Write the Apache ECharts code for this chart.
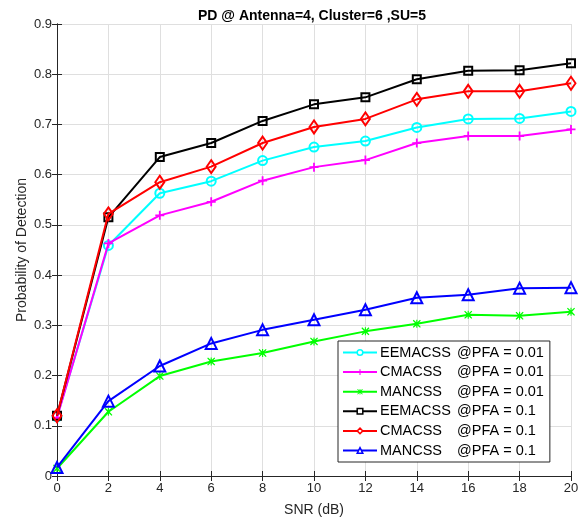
<!DOCTYPE html>
<html><head><meta charset="utf-8">
<script src="https://cdn.jsdelivr.net/npm/echarts@6/dist/echarts.min.js"></script>
<style>html,body{margin:0;padding:0;background:#fff}#c{width:588px;height:522px}</style>
</head><body><div id="c"></div>
<script>
const snr = [0, 2, 4, 6, 8, 10, 12, 14, 16, 18, 20];
const eemacss001 = [0.118, 0.459, 0.563, 0.587, 0.628, 0.655, 0.667, 0.694, 0.711, 0.712, 0.726];
const cmacss001  = [0.116, 0.463, 0.519, 0.546, 0.588, 0.615, 0.629, 0.663, 0.677, 0.677, 0.690];
const mancss001  = [0.015, 0.128, 0.199, 0.228, 0.245, 0.268, 0.288, 0.303, 0.321, 0.319, 0.327];
const eemacss01  = [0.120, 0.515, 0.635, 0.663, 0.707, 0.740, 0.754, 0.790, 0.807, 0.808, 0.822];
const cmacss01   = [0.120, 0.522, 0.585, 0.616, 0.663, 0.695, 0.711, 0.750, 0.766, 0.766, 0.782];
const mancss01   = [0.017, 0.149, 0.219, 0.264, 0.291, 0.311, 0.331, 0.355, 0.361, 0.374, 0.375];
const seriesNames = [
  ['EEMACSS', '@PFA = 0.01'],
  ['CMACSS', '@PFA = 0.01'],
  ['MANCSS', '@PFA = 0.01'],
  ['EEMACSS', '@PFA = 0.1'],
  ['CMACSS', '@PFA = 0.1'],
  ['MANCSS', '@PFA = 0.1']
];
const xTicks = [0, 2, 4, 6, 8, 10, 12, 14, 16, 18, 20];
const yTicks = [0, 0.1, 0.2, 0.3, 0.4, 0.5, 0.6, 0.7, 0.8, 0.9];

const plusPath = 'path://M4,0H6V4H10V6H6V10H4V6H0V4H4Z';
const starPath = 'path://M1,0L5,3.6L9,0L10,1L6.4,5L10,9L9,10L5,6.4L1,10L0,9L3.6,5L0,1Z M4.3,0H5.7V10H4.3Z';

const cfg = [
  {data: eemacss001, color: '#00ffff', symbol: 'circle', size: 9, hollow: true},
  {data: cmacss001, color: '#ff00ff', symbol: plusPath, size: 9, hollow: false},
  {data: mancss001, color: '#00ff00', symbol: starPath, size: 8, hollow: false},
  {data: eemacss01, color: '#000000', symbol: 'rect', size: 8, hollow: true},
  {data: cmacss01, color: '#ff0000', symbol: 'diamond', size: [9, 13], hollow: true},
  {data: mancss01, color: '#0000ff', symbol: 'triangle', size: 11, hollow: true}
];

const names = seriesNames.map(n => n[0] + '|' + n[1]);
const series = cfg.map((c, i) => ({
  name: names[i],
  type: 'line',
  data: c.data.map((v, j) => [snr[j], v]),
  symbol: c.symbol,
  symbolSize: c.size,
  showAllSymbol: true,
  lineStyle: {color: c.color, width: 2},
  itemStyle: c.hollow ? {color: 'rgba(255,255,255,0)', borderColor: c.color, borderWidth: 2}
                      : {color: c.color, borderWidth: 0},
  emphasis: {disabled: true},
  z: 2 + i,
  animation: false
}));

const axisCol = '#262626';
const font = 'Liberation Sans, Arial';
const chart = echarts.init(document.getElementById('c'), null, {renderer: 'canvas'});
chart.setOption({
  backgroundColor: '#fff',
  animation: false,
  title: {
    text: 'PD @ Antenna=4, Cluster=6 ,SU=5',
    left: 307, top: 4, textAlign: 'center',
    textStyle: {fontFamily: font, fontSize: 14, fontWeight: 'bold', color: '#000'}
  },
  grid: {left: 57, right: 17, top: 24, bottom: 45, containLabel: false},
  legend: {
    orient: 'vertical',
    left: 338, top: 341,
    width: 210,
    padding: [4, 6, 4, 4],
    backgroundColor: '#fff',
    borderColor: '#262626', borderWidth: 1,
    itemWidth: 34, itemHeight: 7, itemGap: 4.6,
    selectedMode: false,
    data: names.map((n, i) => ({name: n, itemStyle: cfg[i].hollow ? {color: '#fff', borderColor: cfg[i].color, borderWidth: 1.5} : {color: cfg[i].color}})),
    formatter: function (name) {
      const p = name.split('|');
      return '{a|' + p[0] + '}{b|' + p[1] + '}';
    },
    textStyle: {
      fontFamily: font, fontSize: 14.5, color: '#000', padding: [0, 0, 0, -2],
      rich: {
        a: {width: 77, fontFamily: font, fontSize: 14.5, color: '#000'},
        b: {fontFamily: font, fontSize: 14.5, color: '#000'}
      }
    }
  },
  xAxis: [{
    type: 'value', min: 0, max: 20, interval: 2,
    name: 'SNR (dB)', nameLocation: 'middle', nameGap: 27, nameMoveOverlap: false,
    nameTextStyle: {fontFamily: font, fontSize: 14, color: axisCol},
    axisLine: {lineStyle: {color: axisCol, width: 1}},
    axisTick: {inside: true, length: 5, lineStyle: {color: axisCol}},
    axisLabel: {fontFamily: font, fontSize: 13, color: axisCol, margin: 6,
      formatter: v => xTicks.indexOf(v) >= 0 ? String(v) : ''},
    splitLine: {show: true, lineStyle: {color: '#dfdfdf', width: 1}}
  }, {
    type: 'value', min: 0, max: 20, interval: 2, position: 'top',
    axisLine: {lineStyle: {color: axisCol, width: 1}},
    axisTick: {inside: true, length: 5, lineStyle: {color: axisCol}},
    axisLabel: {show: false}, splitLine: {show: false}
  }],
  yAxis: [{
    type: 'value', min: 0, max: 0.9, interval: 0.1,
    name: 'Probability of Detection', nameLocation: 'middle', nameGap: 28, nameMoveOverlap: false,
    nameTextStyle: {fontFamily: font, fontSize: 14, color: axisCol},
    axisLine: {show: true, lineStyle: {color: axisCol, width: 1}},
    axisTick: {show: true, inside: true, length: 5, lineStyle: {color: axisCol}},
    axisLabel: {fontFamily: font, fontSize: 13, color: axisCol, margin: 5,
      formatter: v => { const t = yTicks.find(y => Math.abs(y - v) < 1e-9); return t === undefined ? '' : (t === 0 ? '0' : t.toFixed(1)); }},
    splitLine: {show: true, lineStyle: {color: '#dfdfdf', width: 1}}
  }, {
    type: 'value', min: 0, max: 0.9, interval: 0.1, position: 'right',
    axisLine: {show: true, lineStyle: {color: axisCol, width: 1}},
    axisTick: {show: true, inside: true, length: 5, lineStyle: {color: axisCol}},
    axisLabel: {show: false}, splitLine: {show: false}
  }],
  series: series
});
</script></body></html>
